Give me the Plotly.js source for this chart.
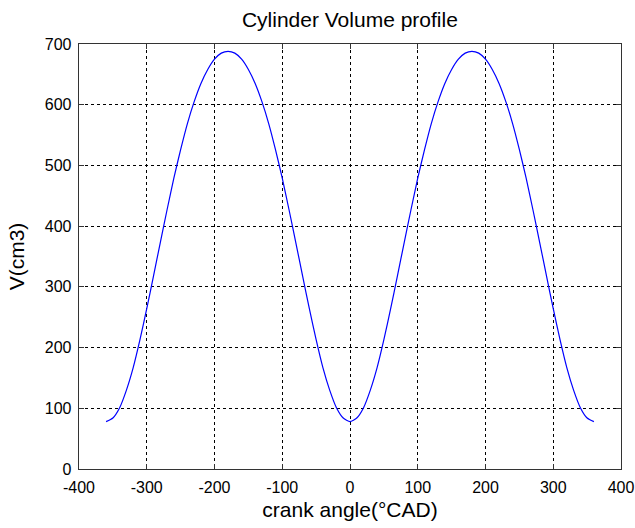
<!DOCTYPE html>
<html>
<head>
<meta charset="utf-8">
<script src="https://cdn.plot.ly/plotly-3.0.1.min.js"></script>
<style>html,body{margin:0;padding:0;background:#fff;}#chart{width:635px;height:528px;}</style>
</head>
<body>
<div id="chart"></div>
<script>
// crank angle (°CAD)
const crankAngle = [-360,-350,-340,-330,-320,-310,-300,-290,-280,-270,-260,-250,-240,-230,-220,-210,-200,-190,-180,-170,-160,-150,-140,-130,-120,-110,-100,-90,-80,-70,-60,-50,-40,-30,-20,-10,0,10,20,30,40,50,60,70,80,90,100,110,120,130,140,150,160,170,180,190,200,210,220,230,240,250,260,270,280,290,300,310,320,330,340,350,360];
// cylinder volume V (cm3)
const volume = [78,84,101,130,167,213,264,318,373,427,479,526,569,605,635,658,675,685,688,685,675,658,635,605,569,526,479,427,373,318,264,213,167,130,101,84,78,84,101,130,167,213,264,318,373,427,479,526,569,605,635,658,675,685,688,685,675,658,635,605,569,526,479,427,373,318,264,213,167,130,101,84,78];
const xTicks = [-400,-300,-200,-100,0,100,200,300,400];
const yTicks = [0,100,200,300,400,500,600,700];

const fontFam = '"Liberation Sans", Arial, Helvetica, sans-serif';

const trace = {
  x: crankAngle, y: volume, type: 'scatter', mode: 'lines',
  line: {color: '#0000ff', width: 1.2, shape: 'spline', smoothing: 0.6},
  hoverinfo: 'skip', showlegend: false
};

const axisCommon = {
  showline: true, mirror: 'ticks', linecolor: '#333', linewidth: 1.3,
  ticks: 'inside', ticklen: 5, tickcolor: '#333', tickwidth: 1,
  showgrid: true, gridcolor: '#000', gridwidth: 1, griddash: '3px,3px',
  zeroline: false, tickfont: {family: fontFam, size: 16, color: '#000'}
};

const layout = {
  width: 635, height: 528,
  margin: {l: 79, r: 14, t: 44, b: 59},
  paper_bgcolor: '#fff', plot_bgcolor: '#fff',
  title: {text: 'Cylinder Volume profile', font: {family: fontFam, size: 21, color: '#000'},
          x: 0.551, xanchor: 'center', y: 0.962, yanchor: 'middle'},
  xaxis: Object.assign({}, axisCommon, {
    range: [-400, 400], tickmode: 'array', tickvals: xTicks, ticktext: xTicks.map(String),
    ticklabelstandoff: 3,
    title: {text: 'crank angle(°CAD)', font: {family: fontFam, size: 21, color: '#000'}, standoff: 7}
  }),
  yaxis: Object.assign({}, axisCommon, {
    range: [0, 700], tickmode: 'array', tickvals: yTicks, ticktext: yTicks.map(String),
    ticklabelstandoff: 3,
    title: {text: 'V(cm3)', font: {family: fontFam, size: 21, color: '#000'}, standoff: 14}
  })
};

Plotly.newPlot('chart', [trace], layout, {staticPlot: true, displayModeBar: false});
</script>
</body>
</html>
